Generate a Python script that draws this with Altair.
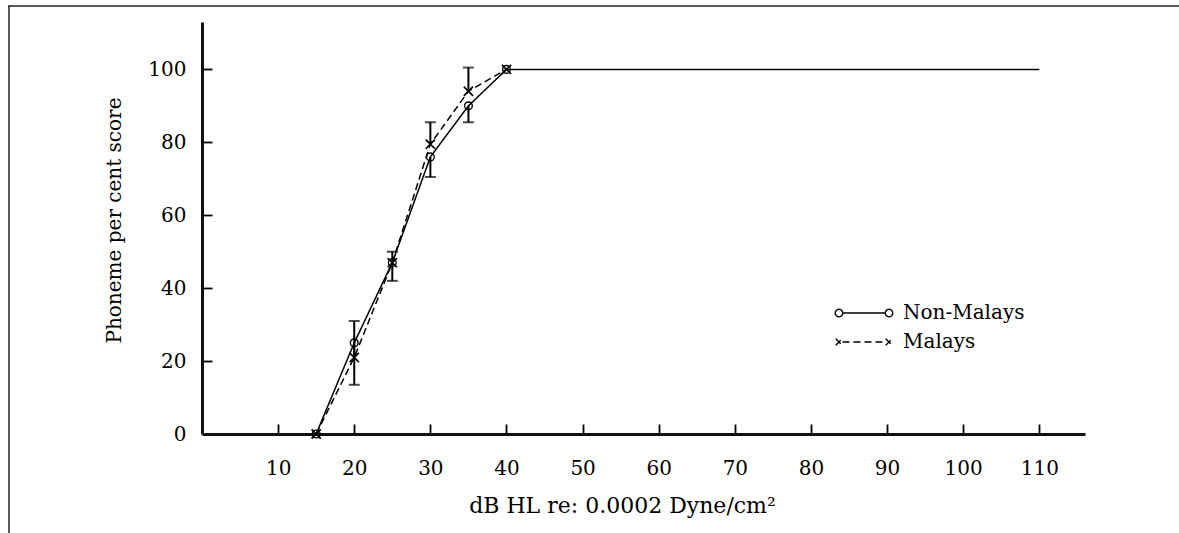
import math
import altair as alt
import pandas as pd

# ---------------- data ----------------
levels = [15, 20, 25, 30, 35, 40]
non_malays = [0, 25, 47, 76, 90, 100]
malays = [0, 21, 47, 79.5, 94, 100]
non_malays_lower = [None, 13.5, 42, 70.5, 85.5, None]
malays_upper = [None, 31, 50, 85.5, 100.5, None]
plateau_x = [110]
plateau_y = [100]
series = ["Non-Malays", "Malays"]
x_ticks = [10, 20, 30, 40, 50, 60, 70, 80, 90, 100, 110]
y_ticks = [0, 20, 40, 60, 80, 100]

FONT = "DejaVu Serif"
W, H = 883, 412

# ---------------- tables ----------------
line_rows = []
for x, y in zip(levels + plateau_x, non_malays + plateau_y):
    line_rows.append({"x": x, "y": y, "series": "Non-Malays"})
for x, y in zip(levels, malays):
    line_rows.append({"x": x, "y": y, "series": "Malays"})
lines_df = pd.DataFrame(line_rows)

pts_nm = pd.DataFrame({"x": levels, "y": non_malays})
pts_m = pd.DataFrame({"x": levels, "y": malays})

err_rows = []
for x, y, b in zip(levels, non_malays, non_malays_lower):
    if b is not None:
        err_rows.append({"x": x, "y": y, "b": b})
for x, y, b in zip(levels, malays, malays_upper):
    if b is not None:
        err_rows.append({"x": x, "y": y, "b": b})
err_df = pd.DataFrame(err_rows)

xscale = alt.Scale(domain=[0, 116], nice=False, zero=False)
yscale = alt.Scale(domain=[0, 113], nice=False, zero=False)

# ---------------- legend symbols (custom paths) ----------------
def circ(cx, r, n=20):
    pts = [(cx + r * math.cos(2 * math.pi * i / n), r * math.sin(2 * math.pi * i / n)) for i in range(n)]
    return "M" + "L".join(f"{a:.3f},{b:.3f}" for a, b in pts) + "Z"

def cross(cx, h):
    return f"M{cx-h},{-h}L{cx+h},{h}M{cx-h},{h}L{cx+h},{-h}"

seg = "M-4.3,0L4.3,0"
path_nm = seg + circ(-5.0, 0.75) + circ(5.0, 0.75)
path_m = seg + cross(-5.0, 0.65) + cross(5.0, 0.65)
sym_expr = f"datum.value == 'Malays' ? '{path_m}' : '{path_nm}'"

# ---------------- layers ----------------
main_x = alt.X("x:Q", scale=xscale, axis=alt.Axis(
    values=x_ticks, ticks=False, grid=False, labelFont=FONT, labelFontSize=20,
    labelColor="black", labelPadding=24, domainWidth=3, domainColor="#111",
    title="dB HL re: 0.0002 Dyne/cm²", titleFont=FONT, titleFontSize=22,
    titleFontWeight="normal", titleColor="black", titlePadding=17,
    titleX=420, titleAlign="center"))
main_y = alt.Y("y:Q", scale=yscale, axis=alt.Axis(
    values=y_ticks, ticks=False, grid=False, labelFont=FONT, labelFontSize=20,
    labelColor="black", labelPadding=16, domainWidth=3, domainColor="#111",
    title="Phoneme per cent score", titleFont=FONT, titleFontSize=20,
    titleFontWeight="normal", titleColor="black", titlePadding=23,
    titleY=198))

lines = alt.Chart(lines_df).mark_line(color="black", strokeWidth=1.5).encode(
    x=main_x, y=main_y,
    strokeDash=alt.StrokeDash("series:N", scale=alt.Scale(domain=series, range=[[1, 0], [7, 4]]),
                              legend=alt.Legend(
                                  orient="none", legendX=652, legendY=281, title=None,
                                  labelFont=FONT, labelFontSize=20, labelColor="black",
                                  symbolType=alt.ExprRef(sym_expr), symbolSize=100,
                                  symbolStrokeWidth=1.4, symbolStrokeColor="black",
                                  symbolFillColor="transparent", labelOffset=29,
                                  rowPadding=9)),
)

circles = alt.Chart(pts_nm).mark_point(shape="circle", filled=False, size=60, color="black",
                                       strokeWidth=1.4, opacity=1).encode(
    x=alt.X("x:Q", scale=xscale, axis=None), y=alt.Y("y:Q", scale=yscale, axis=None))

crosses = alt.Chart(pts_m).mark_point(shape="M-1,-1L1,1M-1,1L1,-1", filled=False, size=85,
                                      color="black", strokeWidth=1.7, opacity=1).encode(
    x=alt.X("x:Q", scale=xscale, axis=None), y=alt.Y("y:Q", scale=yscale, axis=None))

err_rules = alt.Chart(err_df).mark_rule(color="black", strokeWidth=2).encode(
    x=alt.X("x:Q", scale=xscale, axis=alt.Axis(
        orient="top", offset=-H, values=x_ticks, labels=False, domain=False, grid=False,
        ticks=True, tickSize=10, tickWidth=1.8, tickColor="black", title=None)),
    y=alt.Y("y:Q", scale=yscale, axis=alt.Axis(
        orient="right", offset=-W, values=y_ticks[1:], labels=False, domain=False, grid=False,
        ticks=True, tickSize=10, tickWidth=1.8, tickColor="black", title=None)),
    y2="b:Q",
)

caps = alt.Chart(err_df).mark_tick(orient="horizontal", color="black", size=11, thickness=2).encode(
    x=alt.X("x:Q", scale=xscale, axis=None), y=alt.Y("b:Q", scale=yscale, axis=None))

frame_df = pd.DataFrame({"k": [0]})
frame_left = alt.Chart(frame_df).mark_rule(color="#222", strokeWidth=1.5).encode(
    x=alt.value(-193), y=alt.value(-16), y2=alt.value(533 - 22))
frame_top = alt.Chart(frame_df).mark_rule(color="#222", strokeWidth=1.5).encode(
    x=alt.value(-194), x2=alt.value(1179 - 202), y=alt.value(-16))

chart = alt.layer(lines, circles, crosses, err_rules, caps, frame_left, frame_top).resolve_axis(
    x="independent", y="independent"
).properties(
    width=W, height=H,
    autosize=alt.AutoSizeParams(type="none"),
    padding={"left": 202, "top": 22, "right": 1179 - 202 - W, "bottom": 533 - 22 - H},
    background="white",
).configure_view(stroke=None)

chart.save("out.html", embed_options={"renderer": "svg", "actions": False})
